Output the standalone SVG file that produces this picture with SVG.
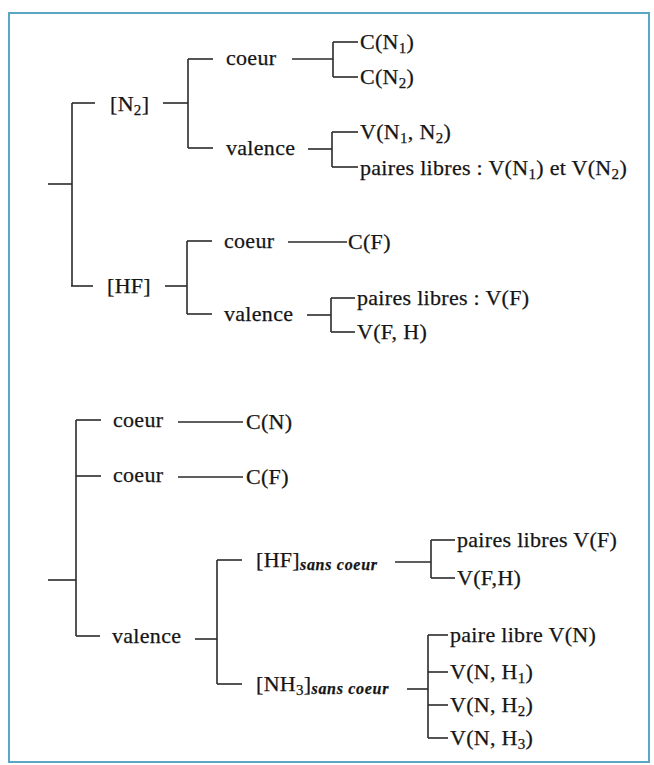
<svg xmlns="http://www.w3.org/2000/svg" width="654" height="765" viewBox="0 0 654 765">
<style>
text{font-family:"Liberation Serif","DejaVu Serif","Times New Roman",serif;font-size:22px;letter-spacing:0.3px;fill:#151515;stroke:#151515;stroke-width:0.25}
.s{font-size:15px}
.i{font-style:italic;font-weight:bold;font-size:16px;letter-spacing:0.7px}
.c line{stroke:#2a2a2a;stroke-width:1.6}
</style>
<rect x="9" y="13" width="640" height="749" fill="#fff" stroke="#5aa6c4" stroke-width="2"/>
<g class="c" id="connectors">
<line x1="48" y1="184" x2="72" y2="184"/>
<line x1="72" y1="103" x2="72" y2="286"/>
<line x1="72" y1="103" x2="95" y2="103"/>
<line x1="71" y1="286" x2="93" y2="286"/>
<line x1="163" y1="103" x2="188" y2="103"/>
<line x1="188" y1="59" x2="188" y2="148"/>
<line x1="188" y1="59" x2="213" y2="59"/>
<line x1="188" y1="148" x2="213" y2="148"/>
<line x1="292" y1="59" x2="333" y2="59"/>
<line x1="333" y1="42" x2="333" y2="77"/>
<line x1="333" y1="42" x2="358" y2="42"/>
<line x1="333" y1="77" x2="358" y2="77"/>
<line x1="308" y1="149" x2="332" y2="149"/>
<line x1="332" y1="132" x2="332" y2="167"/>
<line x1="332" y1="132" x2="358" y2="132"/>
<line x1="332" y1="167" x2="358" y2="167"/>
<line x1="165" y1="286" x2="187" y2="286"/>
<line x1="187" y1="241" x2="187" y2="314"/>
<line x1="187" y1="241" x2="212" y2="241"/>
<line x1="187" y1="314" x2="212" y2="314"/>
<line x1="288" y1="242" x2="347" y2="242"/>
<line x1="307" y1="315" x2="331" y2="315"/>
<line x1="331" y1="298" x2="331" y2="332"/>
<line x1="331" y1="298" x2="355" y2="298"/>
<line x1="331" y1="332" x2="355" y2="332"/>
<line x1="48" y1="580" x2="76" y2="580"/>
<line x1="76" y1="420" x2="76" y2="636"/>
<line x1="76" y1="420" x2="101" y2="420"/>
<line x1="76" y1="476" x2="101" y2="476"/>
<line x1="76" y1="636" x2="100" y2="636"/>
<line x1="178" y1="422" x2="243" y2="422"/>
<line x1="178" y1="477" x2="243" y2="477"/>
<line x1="195" y1="639" x2="217" y2="639"/>
<line x1="217" y1="560" x2="217" y2="684"/>
<line x1="217" y1="560" x2="242" y2="560"/>
<line x1="217" y1="684" x2="242" y2="684"/>
<line x1="395" y1="562" x2="431" y2="562"/>
<line x1="431" y1="540" x2="431" y2="578"/>
<line x1="431" y1="540" x2="455" y2="540"/>
<line x1="431" y1="578" x2="455" y2="578"/>
<line x1="407" y1="689" x2="428" y2="689"/>
<line x1="428" y1="635" x2="428" y2="738"/>
<line x1="428" y1="635" x2="448" y2="635"/>
<line x1="428" y1="672" x2="448" y2="672"/>
<line x1="428" y1="705" x2="448" y2="705"/>
<line x1="428" y1="738" x2="448" y2="738"/>
</g>
<g id="n-n2"><text x="110" y="111">[N<tspan class="s" dy="4">2</tspan><tspan dy="-4">]</tspan></text></g>
<g id="n-coeur1"><text x="226" y="65">coeur</text></g>
<g id="n-cn1"><text x="360" y="49">C(N<tspan class="s" dy="4">1</tspan><tspan dy="-4">)</tspan></text></g>
<g id="n-cn2"><text x="360" y="84">C(N<tspan class="s" dy="4">2</tspan><tspan dy="-4">)</tspan></text></g>
<g id="n-valence1"><text x="226" y="155">valence</text></g>
<g id="n-vn1n2"><text x="360" y="139">V(N<tspan class="s" dy="4">1</tspan><tspan dy="-4">, N</tspan><tspan class="s" dy="4">2</tspan><tspan dy="-4">)</tspan></text></g>
<g id="n-pl1"><text x="360" y="175">paires libres : V(N<tspan class="s" dy="4">1</tspan><tspan dy="-4">) et V(N</tspan><tspan class="s" dy="4">2</tspan><tspan dy="-4">)</tspan></text></g>
<g id="n-hf"><text x="107" y="293">[HF]</text></g>
<g id="n-coeur2"><text x="224" y="248">coeur</text></g>
<g id="n-cf1"><text x="348" y="249">C(F)</text></g>
<g id="n-valence2"><text x="224" y="321">valence</text></g>
<g id="n-plf"><text x="357" y="305">paires libres : V(F)</text></g>
<g id="n-vfh1"><text x="357" y="339">V(F, H)</text></g>
<g id="n-coeur3"><text x="113" y="427">coeur</text></g>
<g id="n-cn"><text x="246" y="429">C(N)</text></g>
<g id="n-coeur4"><text x="113" y="482">coeur</text></g>
<g id="n-cf2"><text x="246" y="484">C(F)</text></g>
<g id="n-valence3"><text x="112" y="643">valence</text></g>
<g id="n-hfsc"><text x="256" y="567">[HF]<tspan class="i" dy="3">sans coeur</tspan></text></g>
<g id="n-plf2"><text x="457" y="547">paires libres V(F)</text></g>
<g id="n-vfh2"><text x="457" y="585">V(F,H)</text></g>
<g id="n-nh3sc"><text x="256" y="691">[NH<tspan class="s" dy="4">3</tspan><tspan dy="-4">]</tspan><tspan class="i" dy="3">sans coeur</tspan></text></g>
<g id="n-pln"><text x="450" y="642">paire libre V(N)</text></g>
<g id="n-vnh1"><text x="450" y="679">V(N, H<tspan class="s" dy="4">1</tspan><tspan dy="-4">)</tspan></text></g>
<g id="n-vnh2"><text x="450" y="712">V(N, H<tspan class="s" dy="4">2</tspan><tspan dy="-4">)</tspan></text></g>
<g id="n-vnh3"><text x="450" y="745">V(N, H<tspan class="s" dy="4">3</tspan><tspan dy="-4">)</tspan></text></g>
</svg>
